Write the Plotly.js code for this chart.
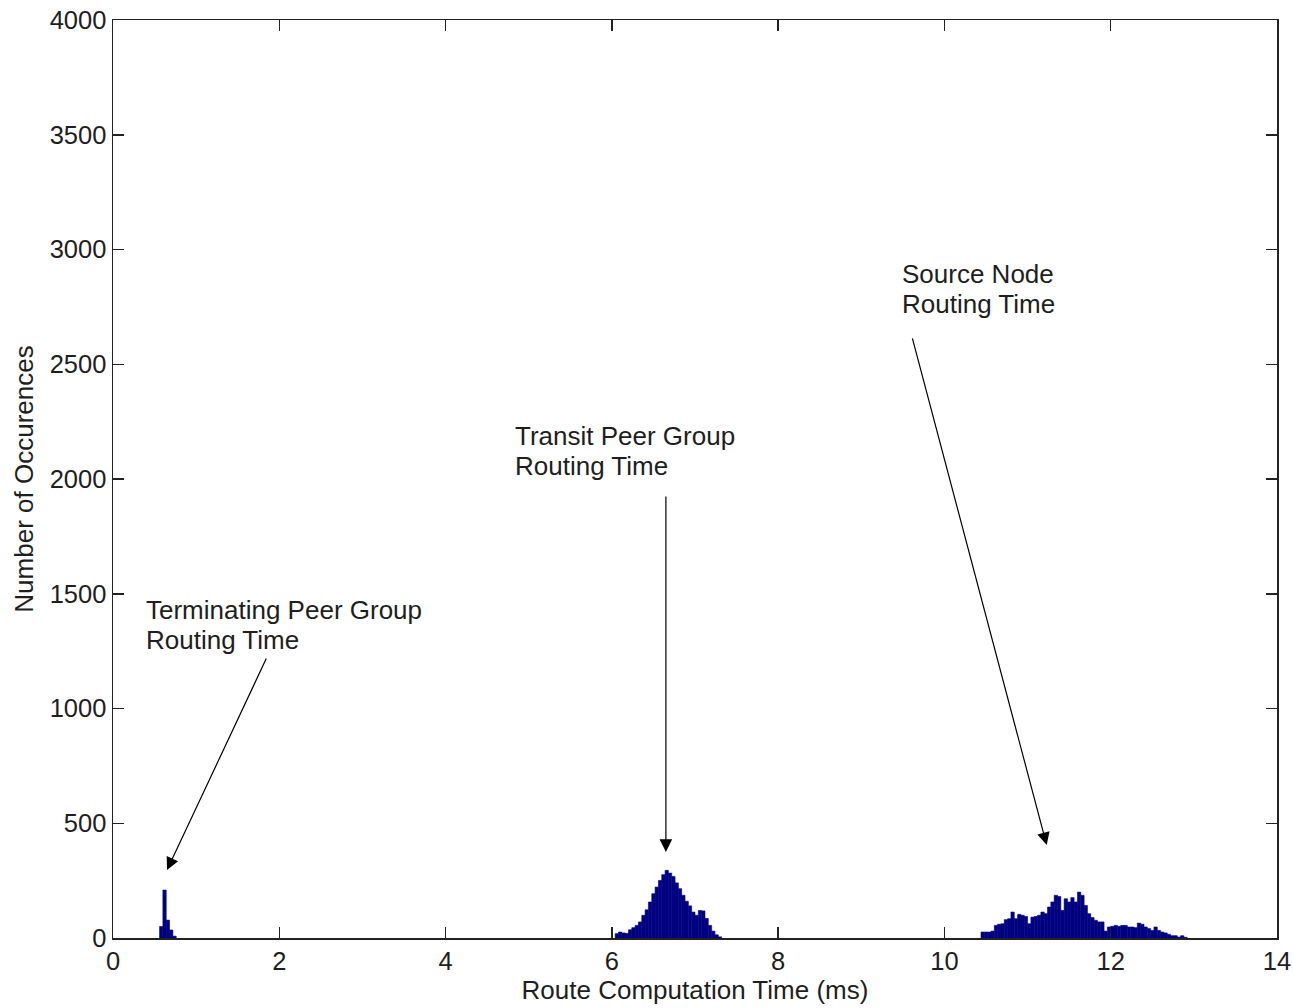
<!DOCTYPE html>
<html>
<head>
<meta charset="utf-8">
<script src="https://cdn.plot.ly/plotly-3.0.1.min.js"></script>
<style>html,body{margin:0;padding:0;background:#fff;}#chart{width:1293px;height:1008px;}</style>
</head>
<body>
<div id="chart"></div>
<script>
// Histogram bin width (ms)
const binWidth = 0.04;

// Terminating peer group routing time
const termStart = 0.56;
const termCounts = [50, 209, 78, 35, 8];

// Transit peer group routing time
const transitStart = 6.04;
const transitCounts = [19, 26, 22, 20, 36, 45, 55, 70, 99, 123, 157, 193, 222, 251, 276, 295,
  283, 268, 240, 215, 186, 160, 140, 113, 99, 120, 118, 85, 55, 30, 14, 5];

// Source node routing time
const sourceStart = 10.44;
const sourceCounts = [26, 26, 26, 30, 55, 60, 62, 80, 84, 113, 84, 103, 99, 94, 62, 91,
  94, 99, 113, 106, 135, 157, 186, 181, 120, 171, 157, 176, 157, 200, 186, 142,
  106, 89, 77, 70, 70, 30, 48, 51, 55, 51, 55, 55, 48, 48, 45, 65,
  60, 48, 41, 33, 48, 33, 26, 22, 16, 10, 10, 4, 10, 3];

const xTicks = [0, 2, 4, 6, 8, 10, 12, 14];
const yTicks = [0, 500, 1000, 1500, 2000, 2500, 3000, 3500, 4000];

// Annotation label lines (left x, line centre y in data coords)
const labelLines = [
  {text: "Terminating Peer Group", x: 0.37, y: 1430},
  {text: "Routing Time", x: 0.37, y: 1298},
  {text: "Transit Peer Group", x: 4.81, y: 2188},
  {text: "Routing Time", x: 4.81, y: 2056},
  {text: "Source Node", x: 9.465, y: 2894},
  {text: "Routing Time", x: 9.465, y: 2762}
];
const arrows = [
  {fromX: 1.852, fromY: 1224, toX: 0.65, toY: 296},
  {fromX: 6.65, fromY: 1930, toX: 6.65, toY: 375},
  {fromX: 9.61, fromY: 2619, toX: 11.23, toY: 405}
];

function centers(start, counts) {
  return counts.map((_, i) => start + (i + 0.5) * binWidth);
}
const allX = [].concat(centers(termStart, termCounts), centers(transitStart, transitCounts), centers(sourceStart, sourceCounts));
const allY = [].concat(termCounts, transitCounts, sourceCounts);

const textColor = '#1e1e1e';
const font = {family: 'Liberation Sans, Arial, sans-serif', size: 26, color: textColor};
const tickFont = {family: 'Liberation Sans, Arial, sans-serif', size: 25.5, color: textColor};

const barColor = '#000080';
const trace = {
  type: 'bar',
  x: allX,
  y: allY,
  width: binWidth,
  marker: {color: barColor, line: {width: 0.6, color: barColor}},
  hoverinfo: 'x+y'
};

const annotations = [];
labelLines.forEach(l => annotations.push({
  x: l.x, y: l.y, xref: 'x', yref: 'y', text: l.text, showarrow: false,
  xanchor: 'left', yanchor: 'middle', align: 'left', font: font
}));
arrows.forEach(a => annotations.push({
  x: a.toX, y: a.toY, ax: a.fromX, ay: a.fromY, axref: 'x', ayref: 'y', xref: 'x', yref: 'y',
  text: '', showarrow: true, arrowhead: 2, arrowsize: 2.1, arrowwidth: 1.2, arrowcolor: '#000'
}));

const axisCommon = {
  showgrid: false, zeroline: false, showline: true, linecolor: '#222', linewidth: 1.5,
  mirror: 'allticks', ticks: 'inside', ticklen: 11, tickwidth: 1.5, tickcolor: '#222',
  tickfont: tickFont
};

const layout = {
  width: 1293, height: 1008,
  margin: {l: 113, r: 16, t: 20, b: 70},
  paper_bgcolor: '#fff', plot_bgcolor: '#fff',
  showlegend: false,
  bargap: 0,
  xaxis: Object.assign({}, axisCommon, {
    range: [0, 14], tickvals: xTicks, ticktext: xTicks.map(String),
    title: {text: 'Route Computation Time (ms)', font: font, standoff: 6}
  }),
  yaxis: Object.assign({}, axisCommon, {
    range: [0, 4000], tickvals: yTicks, ticktext: yTicks.map(String),
    title: {text: 'Number of Occurences', font: font, standoff: 8}
  }),
  annotations: annotations
};

Plotly.newPlot('chart', [trace], layout, {displayModeBar: false, staticPlot: true});
</script>
</body>
</html>
